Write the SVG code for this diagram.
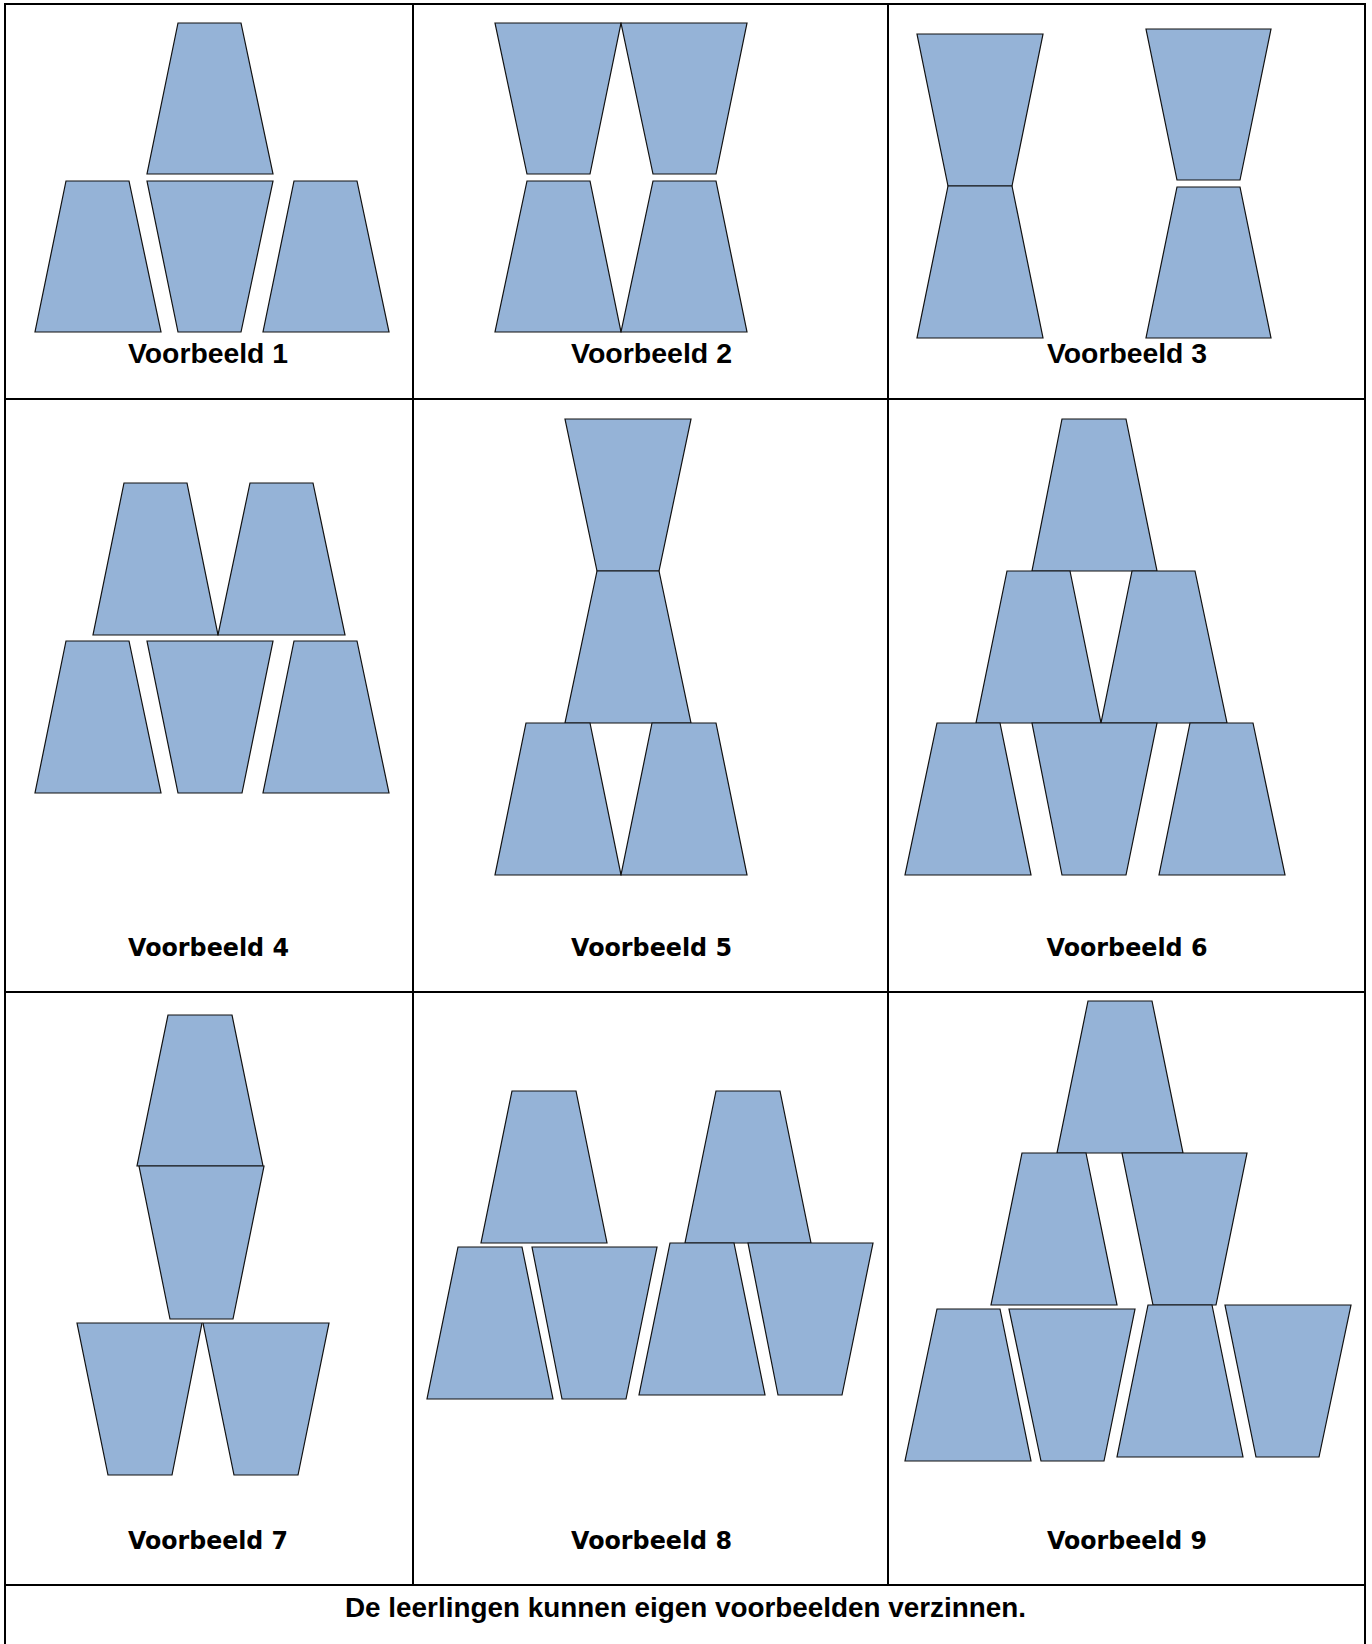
<svg xmlns="http://www.w3.org/2000/svg" width="1372" height="1644" viewBox="0 0 1372 1644">
<style>
.cup{fill:#95b3d7;stroke:#111;stroke-width:1.2;stroke-linejoin:miter}
.grid{stroke:#000;stroke-width:2;fill:none}
.l1{font-family:"Liberation Sans",Arial,sans-serif;font-weight:bold;font-size:27px;fill:#000;text-anchor:middle}
.l2{font-family:"DejaVu Sans",Verdana,sans-serif;font-weight:bold;font-size:24px;fill:#000;text-anchor:middle}
.foot{font-family:"Liberation Sans",Arial,sans-serif;font-weight:bold;font-size:27px;fill:#000;text-anchor:middle}
</style>
<rect x="0" y="0" width="1372" height="1644" fill="#fff"/>
<g id="grid">
<line class="grid" x1="4" y1="4" x2="1366" y2="4"/>
<line class="grid" x1="5" y1="4" x2="5" y2="1644"/>
<line class="grid" x1="1365" y1="4" x2="1365" y2="1644"/>
<line class="grid" x1="413" y1="4" x2="413" y2="1585"/>
<line class="grid" x1="888" y1="4" x2="888" y2="1585"/>
<line class="grid" x1="4" y1="399" x2="1366" y2="399"/>
<line class="grid" x1="4" y1="992" x2="1366" y2="992"/>
<line class="grid" x1="4" y1="1585" x2="1366" y2="1585"/>
</g>
<g id="voorbeeld1">
<polygon class="cup" points="178,23 241,23 273,174 147,174"/>
<polygon class="cup" points="66,181 129,181 161,332 35,332"/>
<polygon class="cup" points="147,181 273,181 241,332 178,332"/>
<polygon class="cup" points="294,181 357,181 389,332 263,332"/>
<text class="l1" x="208" y="363" textLength="160" lengthAdjust="spacingAndGlyphs">Voorbeeld 1</text>
</g>
<g id="voorbeeld2">
<polygon class="cup" points="495,23 621,23 590,174 527,174"/>
<polygon class="cup" points="621,23 747,23 716,174 653,174"/>
<polygon class="cup" points="527,181 590,181 621,332 495,332"/>
<polygon class="cup" points="653,181 716,181 747,332 621,332"/>
<text class="l1" x="651.5" y="363" textLength="161" lengthAdjust="spacingAndGlyphs">Voorbeeld 2</text>
</g>
<g id="voorbeeld3">
<polygon class="cup" points="917,34 1043,34 1012,186 948,186"/>
<polygon class="cup" points="948,186 1012,186 1043,338 917,338"/>
<polygon class="cup" points="1146,29 1271,29 1240,180 1177,180"/>
<polygon class="cup" points="1177,187 1240,187 1271,338 1146,338"/>
<text class="l1" x="1127" y="363" textLength="160" lengthAdjust="spacingAndGlyphs">Voorbeeld 3</text>
</g>
<g id="voorbeeld4">
<polygon class="cup" points="124,483 187,483 218,635 93,635"/>
<polygon class="cup" points="250,483 313,483 345,635 218,635"/>
<polygon class="cup" points="66,641 129,641 161,793 35,793"/>
<polygon class="cup" points="147,641 273,641 242,793 178,793"/>
<polygon class="cup" points="294,641 357,641 389,793 263,793"/>
<text class="l2" x="208.5" y="956" textLength="161" lengthAdjust="spacingAndGlyphs">Voorbeeld 4</text>
</g>
<g id="voorbeeld5">
<polygon class="cup" points="565,419 691,419 659,571 597,571"/>
<polygon class="cup" points="597,571 659,571 691,723 565,723"/>
<polygon class="cup" points="526,723 590,723 621,875 495,875"/>
<polygon class="cup" points="652,723 716,723 747,875 621,875"/>
<text class="l2" x="651.5" y="956" textLength="161" lengthAdjust="spacingAndGlyphs">Voorbeeld 5</text>
</g>
<g id="voorbeeld6">
<polygon class="cup" points="1062,419 1126,419 1157,571 1032,571"/>
<polygon class="cup" points="1007,571 1070,571 1101,723 976,723"/>
<polygon class="cup" points="1132,571 1195,571 1227,723 1101,723"/>
<polygon class="cup" points="937,723 1000,723 1031,875 905,875"/>
<polygon class="cup" points="1032,723 1157,723 1126,875 1062,875"/>
<polygon class="cup" points="1190,723 1253,723 1285,875 1159,875"/>
<text class="l2" x="1127" y="956" textLength="161" lengthAdjust="spacingAndGlyphs">Voorbeeld 6</text>
</g>
<g id="voorbeeld7">
<polygon class="cup" points="168,1015 232,1015 263,1166 137,1166"/>
<polygon class="cup" points="139,1166 264,1166 233,1319 170,1319"/>
<polygon class="cup" points="77,1323 202,1323 172,1475 108,1475"/>
<polygon class="cup" points="203,1323 329,1323 298,1475 234,1475"/>
<text class="l2" x="208" y="1549" textLength="160" lengthAdjust="spacingAndGlyphs">Voorbeeld 7</text>
</g>
<g id="voorbeeld8">
<polygon class="cup" points="512,1091 576,1091 607,1243 481,1243"/>
<polygon class="cup" points="716,1091 780,1091 811,1243 685,1243"/>
<polygon class="cup" points="458,1247 522,1247 553,1399 427,1399"/>
<polygon class="cup" points="532,1247 657,1247 626,1399 562,1399"/>
<polygon class="cup" points="670,1243 734,1243 765,1395 639,1395"/>
<polygon class="cup" points="748,1243 873,1243 842,1395 778,1395"/>
<text class="l2" x="651.5" y="1549" textLength="161" lengthAdjust="spacingAndGlyphs">Voorbeeld 8</text>
</g>
<g id="voorbeeld9">
<polygon class="cup" points="1088,1001 1152,1001 1183,1153 1057,1153"/>
<polygon class="cup" points="1022,1153 1086,1153 1117,1305 991,1305"/>
<polygon class="cup" points="1122,1153 1247,1153 1216,1305 1153,1305"/>
<polygon class="cup" points="937,1309 1000,1309 1031,1461 905,1461"/>
<polygon class="cup" points="1009,1309 1135,1309 1104,1461 1041,1461"/>
<polygon class="cup" points="1148,1305 1212,1305 1243,1457 1117,1457"/>
<polygon class="cup" points="1225,1305 1351,1305 1319,1457 1256,1457"/>
<text class="l2" x="1127" y="1549" textLength="160" lengthAdjust="spacingAndGlyphs">Voorbeeld 9</text>
</g>
<g id="footer">
<text class="foot" x="685.5" y="1617" textLength="681" lengthAdjust="spacingAndGlyphs">De leerlingen kunnen eigen voorbeelden verzinnen.</text>
</g>
</svg>
